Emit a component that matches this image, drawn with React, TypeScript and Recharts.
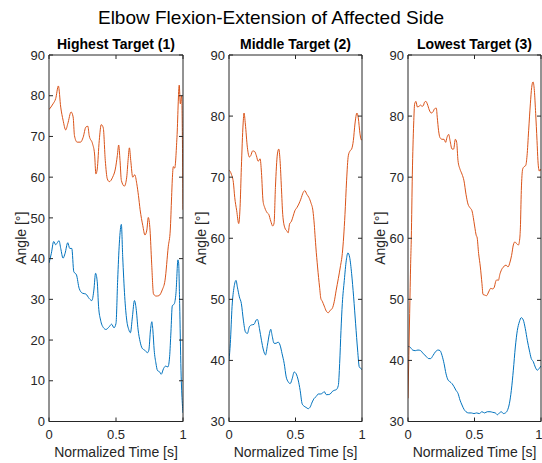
import { LineChart, Line, XAxis, YAxis } from "recharts";

// [normalized time, angle] pairs
const highBlue: [number, number][] = [
  [0, 38.9], [0.0175, 41.3], [0.035, 44.2], [0.05, 43.4], [0.06, 43.8], [0.075, 44.4],
  [0.0875, 42.5], [0.105, 40.1], [0.12, 41.3], [0.14, 43.9], [0.155, 42.5], [0.17, 42.5],
  [0.185, 36.8], [0.205, 36], [0.225, 32.7], [0.25, 31.5], [0.275, 31.3], [0.3, 30.2],
  [0.32, 29.7], [0.335, 32.3], [0.3475, 36.4], [0.36, 34.3], [0.37, 28.2], [0.385, 24.9],
  [0.405, 23.1], [0.425, 22.6], [0.45, 23.3], [0.4675, 23.9], [0.485, 23], [0.5, 24.1],
  [0.5125, 34.8], [0.525, 43.8], [0.54, 48.4], [0.55, 40.5], [0.565, 30.7], [0.58, 24.9],
  [0.595, 22.6], [0.6075, 21.8], [0.6225, 25.7], [0.6375, 29.7], [0.65, 27.8], [0.665, 22.5],
  [0.68, 19.6], [0.695, 18], [0.715, 17.5], [0.735, 16.9], [0.745, 17.5], [0.7575, 22.5],
  [0.7675, 24.5], [0.775, 22.5], [0.785, 17.5], [0.7975, 14.4], [0.81, 12.5], [0.825, 12.2],
  [0.8375, 11.6], [0.855, 13], [0.87, 13.6], [0.8875, 13.4], [0.9, 15.9], [0.91, 22],
  [0.92, 28.4], [0.935, 28.9], [0.9475, 31.5], [0.9625, 39.7], [0.9675, 38.9], [0.975, 29],
  [0.985, 12.6], [0.995, 4.4], [1, 2.1],
];
const highOrange: [number, number][] = [
  [0, 76.6], [0.03, 78], [0.05, 79.3], [0.07, 82.4], [0.0875, 77.2], [0.105, 74],
  [0.125, 71.6], [0.14, 73.1], [0.165, 76], [0.18, 74.8], [0.19, 70.2], [0.21, 68.6],
  [0.235, 68.6], [0.255, 69.8], [0.275, 72.3], [0.29, 72.5], [0.3, 70.2], [0.325, 68.2],
  [0.34, 65.7], [0.35, 60.8], [0.36, 62], [0.375, 69], [0.39, 72.9], [0.405, 72.1],
  [0.42, 64.1], [0.435, 59.6], [0.45, 58.9], [0.475, 60], [0.495, 62], [0.51, 65.3],
  [0.52, 67.9], [0.53, 64.1], [0.54, 59.2], [0.5625, 57.8], [0.58, 60], [0.59, 64.1],
  [0.6, 67.2], [0.61, 64.1], [0.625, 60], [0.64, 60.6], [0.655, 58.4], [0.6675, 55.5],
  [0.68, 52], [0.7, 48.1], [0.716, 45.8], [0.73, 47], [0.741, 50.1], [0.754, 47],
  [0.766, 38.9], [0.78, 31.3], [0.8, 30.8], [0.82, 30.9], [0.845, 32.3], [0.866, 34.7],
  [0.89, 42.9], [0.905, 47], [0.915, 55.2], [0.92, 59.3], [0.928, 62.6], [0.938, 62.2],
  [0.955, 69.8], [0.972, 82.6], [0.98, 78], [0.99, 80], [1, 52],
];

const midBlue: [number, number][] = [
  [0, 40], [0.01, 42.8], [0.023, 48.8], [0.038, 52], [0.053, 53.1], [0.063, 52],
  [0.078, 50.4], [0.093, 49.3], [0.108, 46.6], [0.123, 44.7], [0.138, 44.4], [0.153, 45.5],
  [0.168, 45.8], [0.188, 45.9], [0.204, 46.6], [0.214, 46.7], [0.229, 45.2], [0.244, 43.3],
  [0.259, 41.7], [0.274, 40.9], [0.289, 42.5], [0.304, 44.4], [0.314, 45.1], [0.324, 44.1],
  [0.339, 42.8], [0.354, 42.8], [0.369, 43], [0.384, 42.5], [0.399, 41.1], [0.415, 39.5],
  [0.43, 37.3], [0.445, 36.5], [0.46, 36.2], [0.475, 37], [0.49, 38.1], [0.505, 37.8],
  [0.52, 36.8], [0.535, 35.1], [0.55, 32.9], [0.565, 32.5], [0.58, 32.3], [0.595, 32.1],
  [0.611, 32.4], [0.626, 33.2], [0.641, 33.8], [0.656, 34.1], [0.671, 34.5], [0.686, 34.5],
  [0.701, 34.6], [0.716, 34.9], [0.731, 34.4], [0.746, 34.4], [0.761, 34.5], [0.776, 34.9],
  [0.791, 35.1], [0.806, 35.2], [0.822, 35.9], [0.832, 39.5], [0.842, 44.9], [0.852, 49.3],
  [0.867, 53.1], [0.882, 56.4], [0.894, 57.6], [0.907, 56.9], [0.922, 54.2], [0.937, 50.4],
  [0.952, 46], [0.967, 41.7], [0.98, 38.9], [0.99, 38.7], [1, 38.5],
];
const midOrange: [number, number][] = [
  [0, 71.2], [0.0175, 70.5], [0.033, 69.1], [0.043, 66.7], [0.058, 64.5], [0.073, 62.4],
  [0.083, 65], [0.093, 71.6], [0.106, 78.7], [0.113, 80.5], [0.123, 78.7], [0.138, 74.9],
  [0.153, 73.3], [0.163, 73.5], [0.178, 74.3], [0.193, 74.2], [0.206, 73.5], [0.219, 72.6],
  [0.234, 73], [0.244, 70.8], [0.256, 66.1], [0.269, 65], [0.286, 64.2], [0.299, 63.9],
  [0.314, 62.8], [0.329, 62], [0.339, 62.5], [0.349, 68.3], [0.364, 73.8], [0.374, 74.6],
  [0.384, 72.7], [0.394, 68.3], [0.404, 63.9], [0.42, 61.7], [0.435, 61.2], [0.445, 60.9],
  [0.455, 62.3], [0.47, 62.8], [0.482, 63.6], [0.495, 64.5], [0.51, 65], [0.525, 65.6],
  [0.54, 66.4], [0.558, 67.5], [0.57, 67.8], [0.585, 67.2], [0.6, 66.7], [0.616, 65.8],
  [0.631, 64.5], [0.641, 62.3], [0.648, 60.1], [0.653, 58.6], [0.666, 55.3], [0.681, 52],
  [0.691, 50.1], [0.701, 49.7], [0.716, 48.9], [0.731, 48.1], [0.746, 47.8], [0.761, 48.2],
  [0.776, 48.5], [0.791, 49.6], [0.806, 51.5], [0.822, 53.4], [0.837, 55.3], [0.852, 57.5],
  [0.862, 60.2], [0.872, 63.9], [0.884, 69.4], [0.897, 73.5], [0.91, 74.3], [0.922, 74.6],
  [0.935, 76], [0.947, 78.7], [0.962, 80.5], [0.972, 79.7], [0.985, 77.1], [0.995, 76.1],
  [1, 76.2],
];

const lowBlue: [number, number][] = [
  [0, 42.3], [0.015, 42.2], [0.035, 41.7], [0.055, 41.6], [0.075, 41.7], [0.095, 41.6],
  [0.115, 41.1], [0.135, 40.7], [0.155, 40.3], [0.17, 40.3], [0.188, 40.8], [0.206, 41.4],
  [0.226, 41.7], [0.241, 41.6], [0.256, 40.8], [0.271, 39.5], [0.286, 37.8], [0.301, 36.8],
  [0.316, 36.5], [0.331, 36.2], [0.346, 35.7], [0.361, 35.1], [0.376, 34.6], [0.391, 33.5],
  [0.406, 32.7], [0.421, 32], [0.436, 31.6], [0.456, 31.4], [0.476, 31.4], [0.496, 31.3],
  [0.516, 31.4], [0.536, 31.3], [0.556, 31.6], [0.576, 31.4], [0.596, 31.6], [0.617, 31.6],
  [0.637, 31.5], [0.657, 31.4], [0.672, 31.1], [0.687, 31.4], [0.702, 31.6], [0.717, 31.3],
  [0.732, 31.4], [0.747, 31.8], [0.762, 32.9], [0.777, 35.1], [0.792, 38.4], [0.807, 42.2],
  [0.822, 44.9], [0.837, 46.3], [0.852, 47], [0.867, 46.6], [0.882, 45.2], [0.897, 43.3],
  [0.912, 41.7], [0.927, 40.3], [0.942, 39.8], [0.957, 38.9], [0.972, 38.4], [0.987, 38.7],
  [1, 39.1],
];
const lowOrange: [number, number][] = [
  [0, 33.8], [0.0125, 47.7], [0.02, 55.9], [0.025, 60.2], [0.0326, 70.5], [0.0426, 78.7],
  [0.05, 82], [0.06, 82.4], [0.07, 81.5], [0.083, 81.6], [0.095, 81.8], [0.105, 81.6],
  [0.115, 81.7], [0.125, 82.3], [0.135, 82.4], [0.145, 82], [0.16, 81], [0.175, 80.5],
  [0.188, 80.7], [0.2, 81.2], [0.213, 81.3], [0.22, 79.8], [0.23, 77.6], [0.24, 76.5],
  [0.256, 76.2], [0.271, 76.2], [0.283, 75.7], [0.293, 76.5], [0.306, 77], [0.316, 76],
  [0.331, 74.6], [0.343, 74.6], [0.356, 76.2], [0.366, 75.7], [0.376, 72.7], [0.391, 71.3],
  [0.406, 70.5], [0.421, 69.4], [0.436, 67.2], [0.451, 65.6], [0.466, 65], [0.481, 64.5],
  [0.491, 63.4], [0.501, 62], [0.514, 60.4], [0.519, 60.2], [0.531, 57.5], [0.544, 55.3],
  [0.556, 52.6], [0.564, 50.8], [0.576, 50.7], [0.591, 50.6], [0.606, 51.2], [0.622, 51.8],
  [0.637, 51.7], [0.649, 52], [0.659, 52.9], [0.669, 53.2], [0.679, 53.1], [0.692, 54.2],
  [0.707, 55], [0.722, 55.4], [0.737, 55.6], [0.752, 55.3], [0.767, 56.1], [0.779, 57.2],
  [0.792, 58.9], [0.804, 59.4], [0.817, 59.1], [0.83, 58.9], [0.84, 59.9], [0.845, 61.7],
  [0.852, 67.8], [0.862, 71.3], [0.872, 71.7], [0.885, 71.9], [0.895, 73.5], [0.907, 77.6],
  [0.92, 82], [0.93, 84.7], [0.94, 85.6], [0.95, 84.2], [0.96, 80.4], [0.97, 76],
  [0.977, 72.7], [0.987, 71], [0.995, 71.3], [1, 71],
];

const xTicks = [0, 0.5, 1];
const highTicks = [0, 10, 20, 30, 40, 50, 60, 70, 80, 90];
const upperTicks = [30, 40, 50, 60, 70, 80, 90];

const FONT = '"Liberation Sans", Arial, Helvetica, sans-serif';
const INK = "#262626";
const BLUE = "#0072BD";
const ORANGE = "#D95319";

const toPoints = (pairs: [number, number][]) => pairs.map(([t, v]) => ({ t, v }));

interface PanelProps {
  title: string;
  left: number;
  width: number;
  axisWidth: number;
  rightPad: number;
  domain: [number, number];
  ticks: number[];
  blue: [number, number][];
  orange: [number, number][];
}

function Panel({ title, left, width, axisWidth, rightPad, domain, ticks, blue, orange }: PanelProps) {
  const tickStyle = { fontSize: 13, fill: INK, fontFamily: FONT };
  const bluePts = toPoints(blue);
  return (
    <div style={{ position: "absolute", left, top: 0 }}>
      <LineChart width={width} height={463} margin={{ top: 54, right: rightPad, bottom: 0, left: 0 }}>
        <XAxis
          xAxisId="b"
          type="number"
          dataKey="t"
          domain={[0, 1]}
          ticks={xTicks}
          height={41.5}
          tickSize={-4}
          tickMargin={12}
          tick={tickStyle}
          stroke={INK}
          allowDataOverflow
          label={({ viewBox }: any) => (
            <text
              x={viewBox.x + viewBox.width / 2}
              y={viewBox.y + 30.5}
              textAnchor="middle"
              dominantBaseline="central"
              fontSize={14}
              fontFamily={FONT}
              fill={INK}
            >
              Normalized Time [s]
            </text>
          )}
        />
        <XAxis
          xAxisId="t"
          orientation="top"
          type="number"
          dataKey="t"
          domain={[0, 1]}
          ticks={xTicks}
          height={1}
          tickSize={-4}
          tickFormatter={() => ""}
          stroke={INK}
          allowDataOverflow
          label={({ viewBox }: any) => (
            <text
              x={viewBox.x + viewBox.width / 2}
              y={44}
              textAnchor="middle"
              dominantBaseline="central"
              fontSize={14}
              fontWeight="bold"
              fontFamily={FONT}
              fill="#000"
            >
              {title}
            </text>
          )}
        />
        <YAxis
          yAxisId="l"
          type="number"
          domain={domain}
          ticks={ticks}
          width={axisWidth}
          tickSize={-4}
          tickMargin={8}
          tick={tickStyle}
          stroke={INK}
          allowDataOverflow
          label={({ viewBox }: any) => {
            const x = viewBox.x + viewBox.width - 28;
            const y = viewBox.y + viewBox.height / 2;
            return (
              <text
                x={x}
                y={y}
                transform={`rotate(-90 ${x} ${y})`}
                textAnchor="middle"
                dominantBaseline="central"
                fontSize={14}
                fontFamily={FONT}
                fill={INK}
              >
                Angle [°]
              </text>
            );
          }}
        />
        <YAxis
          yAxisId="r"
          orientation="right"
          type="number"
          domain={domain}
          ticks={ticks}
          width={1}
          tickSize={-4}
          tickFormatter={() => ""}
          stroke={INK}
          allowDataOverflow
        />
        {/* invisible series so the box axes (top / right) get drawn */}
        <Line
          xAxisId="t"
          yAxisId="r"
          data={bluePts}
          dataKey="v"
          stroke="none"
          dot={false}
          activeDot={false}
          legendType="none"
          isAnimationActive={false}
        />
        <Line
          xAxisId="b"
          yAxisId="l"
          data={bluePts}
          dataKey="v"
          type="monotone"
          stroke={BLUE}
          strokeWidth={1}
          dot={false}
          isAnimationActive={false}
        />
        <Line
          xAxisId="b"
          yAxisId="l"
          data={toPoints(orange)}
          dataKey="v"
          type="monotone"
          stroke={ORANGE}
          strokeWidth={1}
          dot={false}
          isAnimationActive={false}
        />
      </LineChart>
    </div>
  );
}

export default function App() {
  return (
    <div style={{ position: "absolute", left: 0, top: 0, width: 542, height: 463, background: "#fff", fontFamily: FONT }}>
      <div
        style={{
          position: "absolute",
          left: 0,
          top: 6,
          width: 542,
          textAlign: "center",
          fontSize: 19,
          lineHeight: "24px",
          color: "#000",
        }}
      >
        Elbow Flexion-Extension of Affected Side
      </div>
      <Panel title="Highest Target (1)" left={0} width={190} axisWidth={49} rightPad={6} domain={[0, 90]} ticks={highTicks} blue={highBlue} orange={highOrange} />
      <Panel title="Middle Target (2)" left={190} width={180} axisWidth={39} rightPad={7} domain={[30, 90]} ticks={upperTicks} blue={midBlue} orange={midOrange} />
      <Panel title="Lowest Target (3)" left={370} width={172} axisWidth={38} rightPad={0} domain={[30, 90]} ticks={upperTicks} blue={lowBlue} orange={lowOrange} />
    </div>
  );
}
